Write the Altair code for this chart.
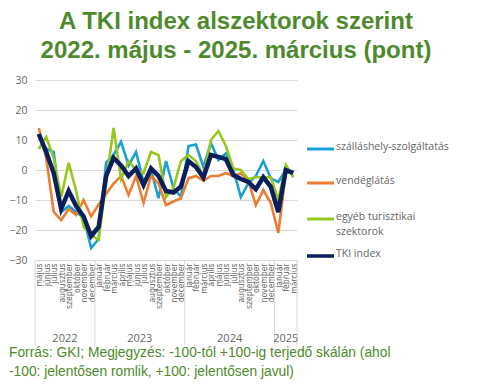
import altair as alt
import pandas as pd

months = ["május", "június", "július", "augusztus", "szeptember", "október", "november", "december",
          "január", "február", "március", "április", "május", "június", "július", "augusztus",
          "szeptember", "október", "november", "december",
          "január", "február", "március", "április", "május", "június", "július", "augusztus",
          "szeptember", "október", "november", "december",
          "január", "február", "március"]
years = ["2022", "2023", "2024", "2025"]
year_months = [8, 12, 12, 3]

szallas = [11, 7, 6, -14, -12, -14, -16, -26, -23, 2.5, 5, 9.4, 1.5, 6, -4, 0, -9.4, 3, -6, -9,
           8, 8.5, 1, 9, 3.3, 5.5, 0, -9, -4.4, -2, 3, -2.8, -4, 0, -0.6]
vendeg = [14, 4, -14, -16.7, -13, -15, -10, -15.5, -11.5, -8, -4.5, -2, -8.3, -2, -11, -2, -4.5,
          -11.7, -10.5, -9.4, -2.8, -2, -3.6, -2, -2, -1, -2, -1.1, -3.5, -11.7, -6.7, -11, -21, -1, -0.5]
egyeb = [7, 11, 4, -9, 2.4, -7, -19, -21.7, -23.3, -4, 14, -3, 3, 0, -1, 6, 5, -9, -6, 3,
         5, 3, -2, 10, 13, 8, 0.5, 0, -3, -2.4, -2.4, -2.4, -10, 1.7, -2.4]
tki = [12, 6, -1, -13, -7, -12, -15.5, -22, -19, -2, 4, 1.5, -2, 0.5, -5, 0.5, -2, -7, -7.5, -5.5,
       3, 1, -2.5, 5, 4.4, 3.6, -1.7, -3, -4, -6.4, -2.4, -5.6, -14, 0, -1]

series_names = ["szálláshely-szolgáltatás", "vendéglátás", "egyéb turisztikai szektorok", "TKI index"]
legend_lines = [["szálláshely-szolgáltatás"], ["vendéglátás"], ["egyéb turisztikai", "szektorok"], ["TKI index"]]
colors = ["#1A9FD5", "#ED7D31", "#95C81E", "#0A1F5C"]
series_values = [szallas, vendeg, egyeb, tki]

title_lines = ["A TKI index alszektorok szerint", "2022. május - 2025. március (pont)"]
footer_lines = ["Forrás: GKI; Megjegyzés: -100-tól +100-ig terjedő skálán (ahol",
                "-100: jelentősen romlik, +100: jelentősen javul)"]
y_ticks = [-30, -20, -10, 0, 10, 20, 30]

rows = []
for name, vals in zip(series_names, series_values):
    for i, v in enumerate(vals):
        rows.append({"idx": i, "month": months[i], "series": name, "value": v})
df = pd.DataFrame(rows)

starts = []
s = 0
for n in year_months:
    starts.append(s)
    s += n
year_df = pd.DataFrame({"year": years, "c": [st + (n - 1) / 2 for st, n in zip(starts, year_months)]})
bound_df = pd.DataFrame({"b": [st - 0.5 for st in starts] + [s - 0.5]})

W, H = 262, 180
gray = "#666666"
green_title = "#4E8A2C"
narrow = "'Liberation Sans Narrow', 'DejaVu Sans Condensed', sans-serif"

xscale = alt.Scale(domain=[-0.5, len(months) - 0.5], nice=False, zero=False)
yscale = alt.Scale(domain=[-30, 30], nice=False)
label_arr = "[" + ",".join("'" + m + "'" for m in months) + "]"

x_axis = alt.Axis(values=list(range(len(months))), labelExpr=label_arr + "[datum.value]",
                  labelAngle=270, labelAlign="right", labelBaseline="middle",
                  labelFontSize=8.5, labelFont=narrow, labelColor=gray, ticks=False,
                  domain=False, grid=False, labelOverlap=False, labelPadding=3,
                  labelFlush=False, labelBound=False, title=None)
y_axis = alt.Axis(values=y_ticks, grid=True, gridColor="#d9d9d9", domain=False, ticks=False,
                  labelOverlap=False, labelFlush=False,
                  labelFontSize=10.5, labelFont="Open Sans", labelColor=gray, labelPadding=8, title=None)

color_scale = alt.Scale(domain=series_names, range=colors)

X = alt.X("idx:Q", scale=xscale, axis=x_axis)
Y = alt.Y("value:Q", scale=yscale, axis=y_axis)

lines3 = alt.Chart(df[df.series != "TKI index"]).mark_line(strokeWidth=2.6).encode(
    x=X, y=Y, color=alt.Color("series:N", scale=color_scale, legend=None),
)
line_tki = alt.Chart(df[df.series == "TKI index"]).mark_line(strokeWidth=4.5).encode(
    x=X, y=Y, color=alt.Color("series:N", scale=color_scale, legend=None),
)

seps = alt.Chart(bound_df).mark_rule(color="#d9d9d9", strokeWidth=1).encode(
    x=alt.X("b:Q", scale=xscale, axis=x_axis), y=alt.value(H), y2=alt.value(H + 85))

year_text = alt.Chart(year_df).mark_text(fontSize=11, font="Open Sans", color=gray).encode(
    x=alt.X("c:Q", scale=xscale, axis=x_axis), y=alt.value(H + 79), text="year:N")

one = pd.DataFrame({"a": [0]})
legend_y = [69, 103, 139, 176]
legend_layers = []
for k in range(4):
    legend_layers.append(alt.Chart(one).mark_rule(color=colors[k], strokeWidth=3.5 if k == 3 else 3).encode(
        x=alt.value(272), x2=alt.value(299), y=alt.value(legend_y[k])))
    lines = legend_lines[k]
    legend_layers.append(alt.Chart(one).mark_text(align="left", baseline="top", fontSize=10.5,
                                                  font="Open Sans", color=gray, lineHeight=15,
                                                  dy=-7).encode(
        x=alt.value(301), y=alt.value(legend_y[k]),
        text=alt.value(lines if len(lines) > 1 else lines[0])))

title_text = alt.Chart(one).mark_text(align="center", baseline="top", fontSize=24, fontWeight="bold",
                                      font="Liberation Sans", color=green_title, lineHeight=29).encode(
    x=alt.value(201), y=alt.value(-70), text=alt.value(title_lines))

footer_text = alt.Chart(one).mark_text(align="left", baseline="top", fontSize=13.8,
                                       font="Liberation Sans", color=green_title, lineHeight=19).encode(
    x=alt.value(-26), y=alt.value(266), text=alt.value(footer_lines))

chart = alt.layer(seps, lines3, line_tki, year_text, *legend_layers, title_text, footer_text).properties(
    width=W, height=H,
    autosize=alt.AutoSizeParams(type="none"),
    padding={"left": 27, "top": 72, "right": 173, "bottom": 119},
).configure_view(stroke=None)

chart.save("out.html", embed_options={"renderer": "svg", "actions": False})
